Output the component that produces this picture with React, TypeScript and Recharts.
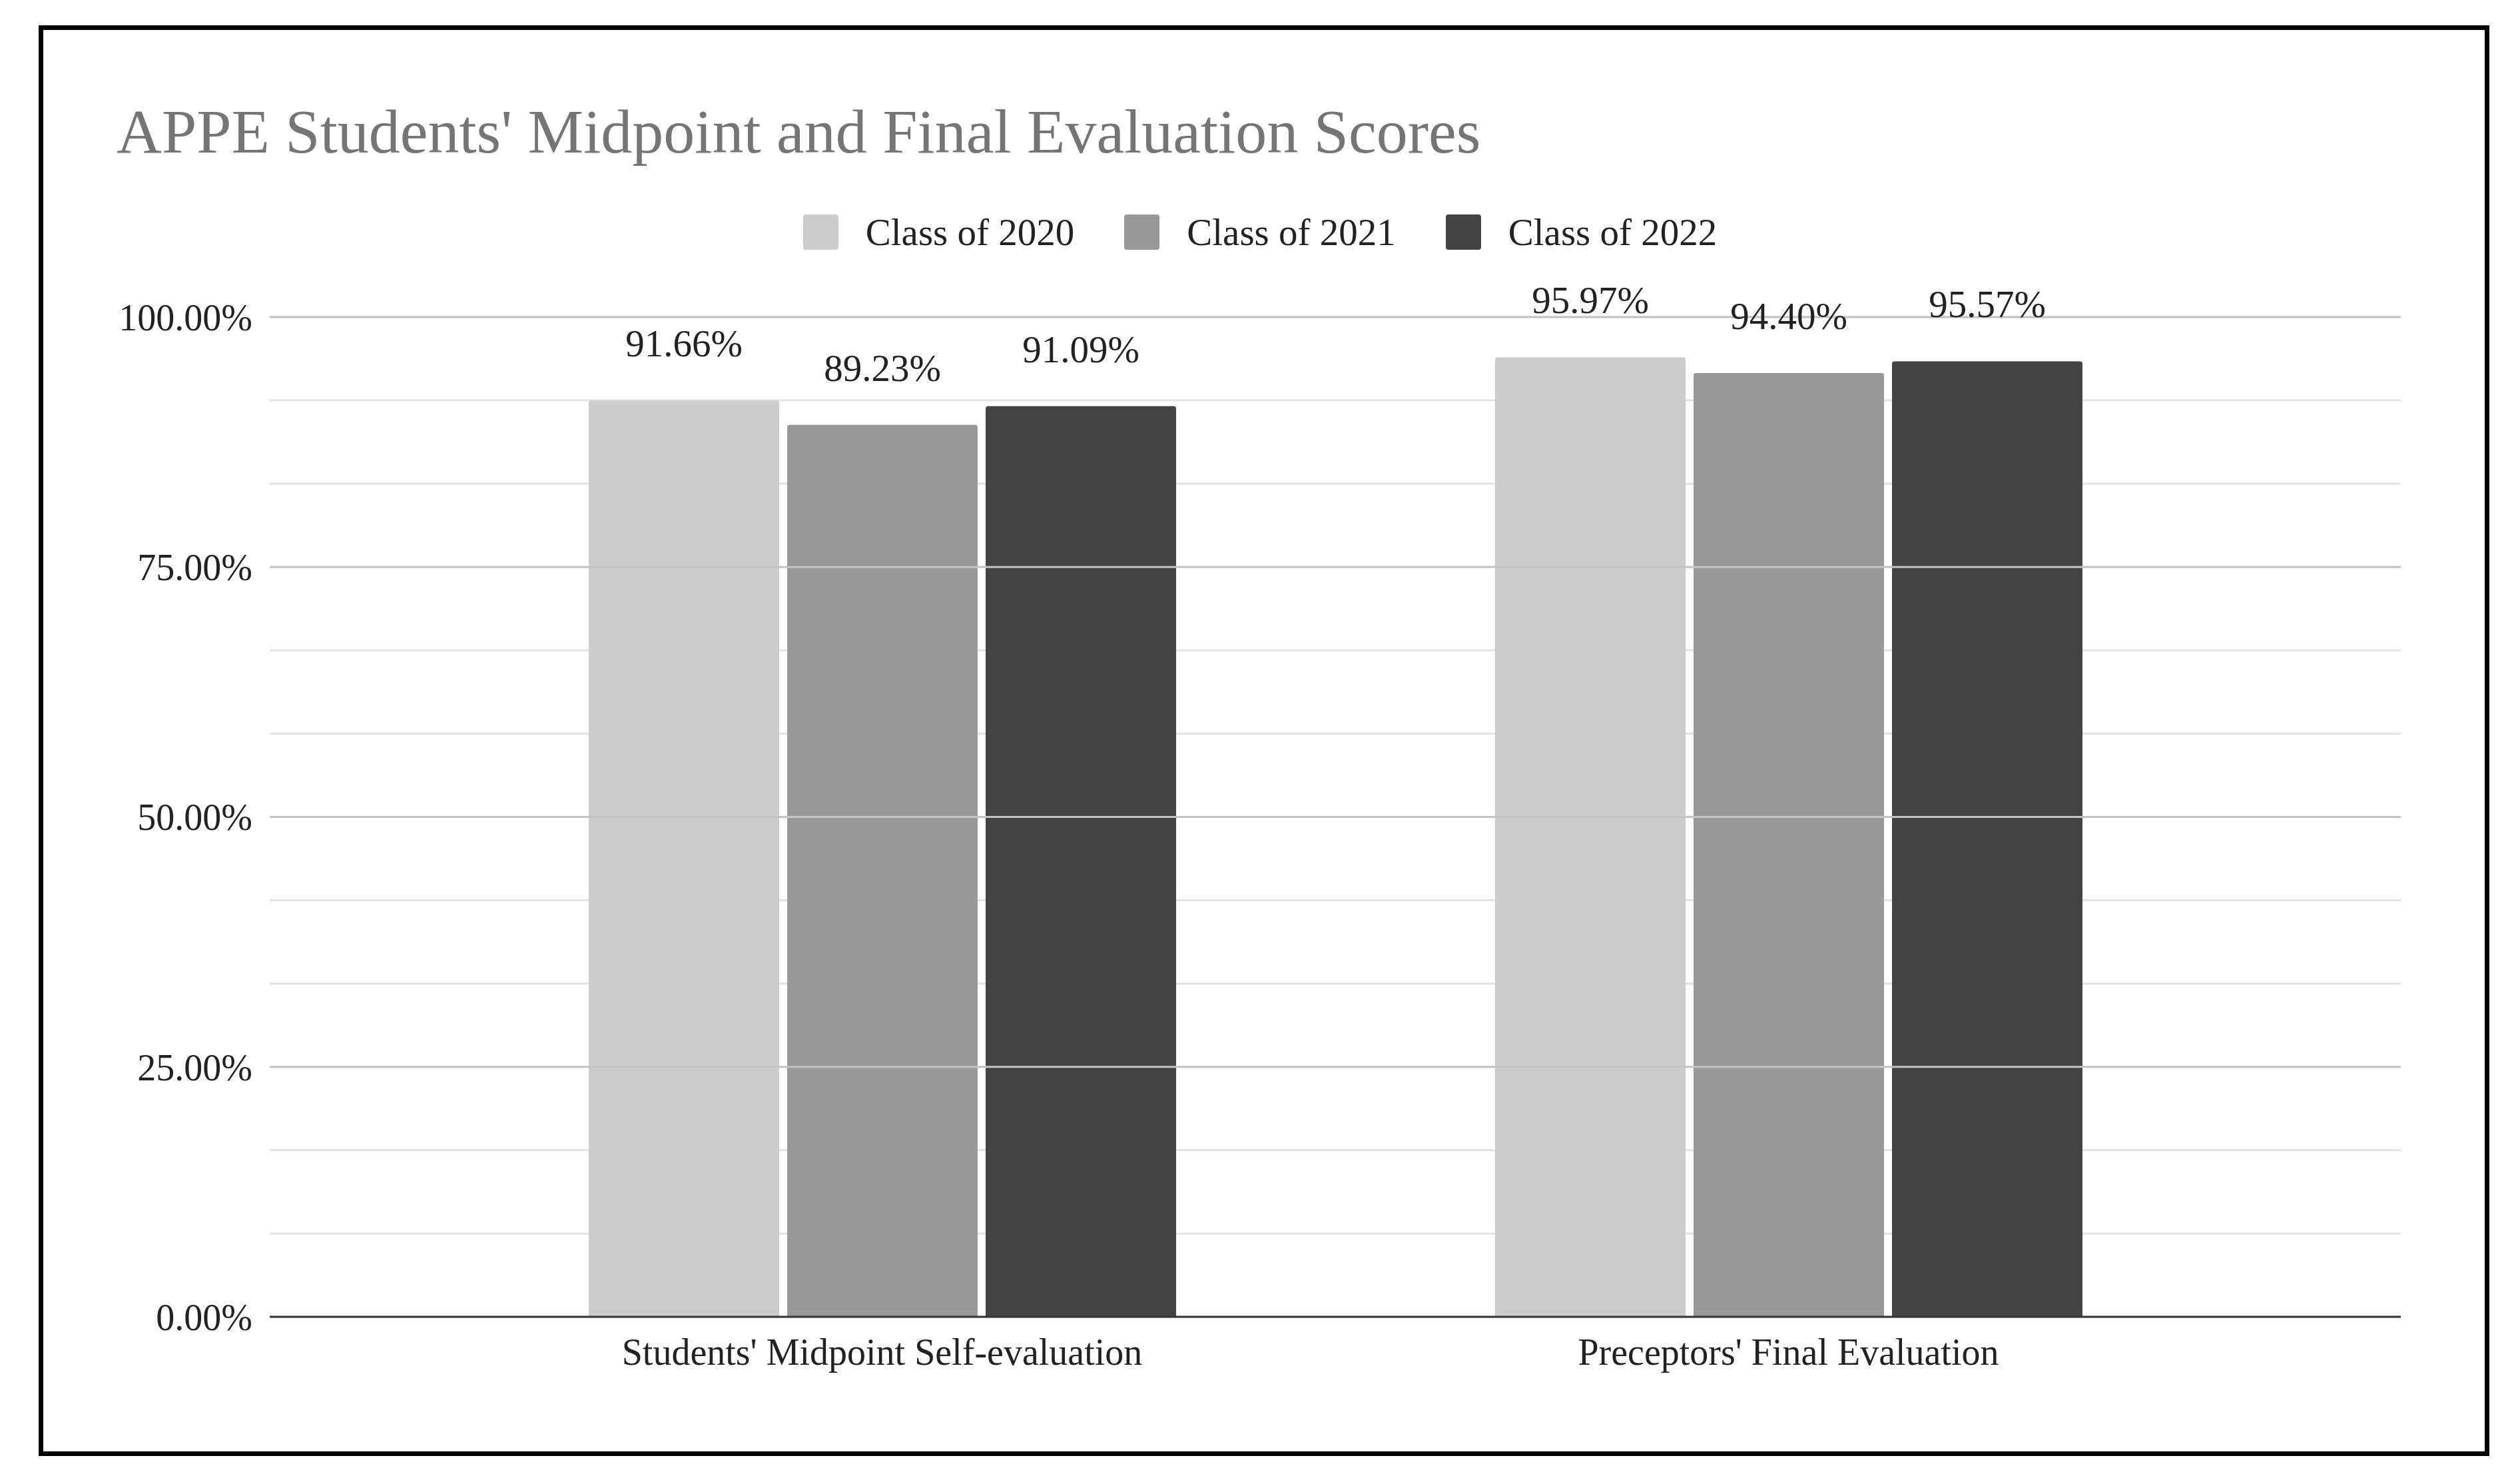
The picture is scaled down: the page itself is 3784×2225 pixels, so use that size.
import { BarChart, Bar, XAxis, YAxis, CartesianGrid, LabelList, ReferenceLine } from 'recharts'

const categories = ["Students' Midpoint Self-evaluation", "Preceptors' Final Evaluation"]
const class2020 = [91.66, 95.97]
const class2021 = [89.23, 94.4]
const class2022 = [91.09, 95.57]
const seriesNames = ['Class of 2020', 'Class of 2021', 'Class of 2022']
const colors = ['#cccccc', '#999999', '#434343']
const yTicks = [0, 8.333, 16.667, 25, 33.333, 41.667, 50, 58.333, 66.667, 75, 83.333, 91.667, 100]
const majorTicks = [25, 50, 75, 100]

const data = categories.map((name, i) => ({
  name,
  c2020: class2020[i],
  c2021: class2021[i],
  c2022: class2022[i],
}))

const font = '"Liberation Serif", "DejaVu Serif", serif'
const fmt = (v: number) => `${v.toFixed(2)}%`

export default function App() {
  return (
    <div style={{ position: 'absolute', left: 0, top: 0, width: 3784, height: 2225, background: '#fff', fontFamily: font }}>
      <div style={{ position: 'absolute', left: 58, top: 38, width: 3680, height: 2148, border: '7px solid #000', boxSizing: 'border-box' }} />
      <div style={{ position: 'absolute', left: 175, top: 143, fontSize: 94, color: '#757575', whiteSpace: 'nowrap' }}>
        APPE Students' Midpoint and Final Evaluation Scores
      </div>
      <div style={{ position: 'absolute', left: 0, width: 3784, top: 316, display: 'flex', justifyContent: 'center' }}>
        <div style={{ display: 'flex', gap: 75, alignItems: 'center' }}>
          {seriesNames.map((s, i) => (
            <div key={s} style={{ display: 'flex', alignItems: 'center', gap: 41, fontSize: 57, color: '#222' }}>
              <div style={{ width: 53, height: 53, background: colors[i], borderRadius: 4 }} />
              <span>{s}</span>
            </div>
          ))}
        </div>
      </div>
      <div style={{ position: 'absolute', left: 0, top: 0 }}>
        <BarChart
          width={3784}
          height={2225}
          data={data}
          margin={{ top: 476, right: 179, bottom: 148, left: 105 }}
          barSize={286}
          barGap={12}
        >
          <CartesianGrid vertical={false} stroke="#e3e3e3" strokeWidth={3} />
          {majorTicks.map((t) => (
            <ReferenceLine key={t} y={t} stroke="#c4c4c4" strokeWidth={3} />
          ))}
          <XAxis
            dataKey="name"
            height={100}
            padding={{ left: 239, right: 239 }}
            axisLine={{ stroke: '#333', strokeWidth: 3 }}
            tickLine={false}
            tick={{ fontSize: 56, fill: '#222', fontFamily: font }}
            tickMargin={26}
          />
          <YAxis
            width={300}
            domain={[0, 100]}
            ticks={yTicks}
            interval={0}
            axisLine={false}
            tickLine={false}
            tick={{ fontSize: 56, fill: '#222', fontFamily: font }}
            tickFormatter={(v: number) => (majorTicks.includes(v) || v === 0 ? fmt(v) : '')}
            tickMargin={20}
          />
          {(['c2020', 'c2021', 'c2022'] as const).map((k, i) => (
            <Bar key={k} dataKey={k} fill={colors[i]} radius={[4, 4, 0, 0]} isAnimationActive={false}>
              <LabelList
                dataKey={k}
                position="top"
                offset={66}
                formatter={(v: number) => fmt(v)}
                style={{ fontSize: 57, fill: '#222', fontFamily: font }}
              />
            </Bar>
          ))}
        </BarChart>
      </div>
    </div>
  )
}
